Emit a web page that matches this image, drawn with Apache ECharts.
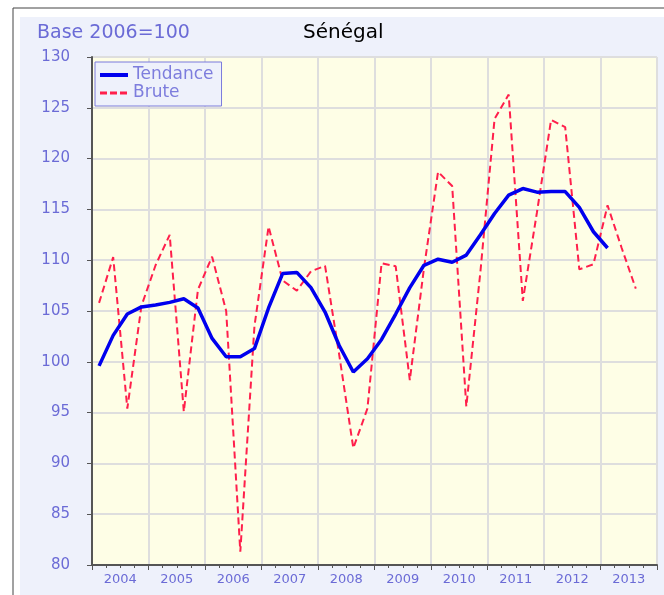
<!DOCTYPE html>
<html>
<head>
<meta charset="utf-8">
<script src="https://cdn.jsdelivr.net/npm/echarts@6/dist/echarts.min.js"></script>
<style>
  html, body { margin: 0; padding: 0; background: #ffffff; }
  #chart { width: 664px; height: 595px; }
</style>
</head>
<body>
<div id="chart"></div>
<script>
// Years shown on the time axis (one label centred in each year)
const years = ['2004', '2005', '2006', '2007', '2008', '2009', '2010', '2011', '2012', '2013'];

// Quarterly index values, base 2006 = 100, starting 2004 Q1
const tendance = [
  99.6, 102.6, 104.7, 105.4, 105.6, 105.85, 106.2, 105.3, 102.3, 100.5,
  100.5, 101.3, 105.3, 108.7, 108.8, 107.3, 104.9, 101.6, 99.0, 100.3,
  102.2, 104.7, 107.3, 109.5, 110.1, 109.8, 110.5, 112.5, 114.6, 116.4,
  117.05, 116.7, 116.75, 116.75, 115.2, 112.8, 111.2
];
const brute = [
  105.8, 110.3, 95.4, 105.5, 109.5, 112.5, 95.1, 107.1, 110.35, 105.0,
  81.3, 103.5, 113.3, 108.0, 107.0, 108.9, 109.45, 100.7, 91.5, 95.4,
  109.7, 109.4, 98.2, 109.2, 118.7, 117.3, 95.6, 108.9, 123.9, 126.3,
  106.0, 114.7, 123.8, 123.1, 109.1, 109.6, 115.4, 111.2, 107.2
];

const labelColor = '#6B6BD6';
const font = 'DejaVu Sans';
const quarters = years.length * 4;
const blue = '#0000EE';
const red = '#FF1F4B';

// each quarter is plotted at the middle of its slot on the axis
const toPoints = arr => arr.map((v, i) => [i + 0.5, v]);

// legend keys show the line only, without a marker
const hiddenMarker = { opacity: 0, color: 'rgba(0,0,0,0)', borderColor: 'rgba(0,0,0,0)', borderWidth: 0 };

const chart = echarts.init(document.getElementById('chart'), null, { renderer: 'canvas' });

chart.setOption({
  animation: false,
  graphic: [
    { type: 'rect', z: -10, silent: true,
      shape: { x: 13, y: 8, width: 700, height: 700 },
      style: { fill: '#ffffff', stroke: '#444444', lineWidth: 1 } },
    { type: 'rect', z: -9, silent: true,
      shape: { x: 20, y: 17, width: 700, height: 700 },
      style: { fill: '#EEF1FB' } }
  ],
  title: [
    { text: 'Base 2006=100', left: 37, top: 23, padding: 0,
      textStyle: { fontFamily: font, fontSize: 19, fontWeight: 'normal', color: labelColor, lineHeight: 20 } },
    { text: 'Sénégal', left: 303, top: 23, padding: 0,
      textStyle: { fontFamily: font, fontSize: 20, fontWeight: 'normal', color: '#000000', lineHeight: 20 } }
  ],
  legend: {
    orient: 'vertical',
    left: 95, top: 62,
    padding: [4, 8, 4, 3],
    itemGap: 0,
    itemWidth: 28,
    itemHeight: 14,
    itemTextGap: 6,
    backgroundColor: '#EEF1FB',
    borderColor: '#7B7BDD',
    borderWidth: 1,
    borderRadius: 0,
    textStyle: { fontFamily: font, fontSize: 17, color: '#7D7DDD', lineHeight: 18 },
    data: [
      { name: 'Tendance', itemStyle: hiddenMarker, lineStyle: { width: 4, color: blue } },
      { name: 'Brute', itemStyle: hiddenMarker, lineStyle: { width: 3, type: [7, 3], color: red } }
    ]
  },
  grid: {
    left: 92, right: 7, top: 57, bottom: 30,
    show: true,
    backgroundColor: '#FEFEE6',
    borderColor: '#9A9A9A',
    borderWidth: 1
  },
  xAxis: [
    {
      type: 'value', min: 0, max: quarters, interval: 4,
      axisLine: { show: true, onZero: false, lineStyle: { color: '#555555', width: 2 } },
      axisTick: { show: true, length: 5, lineStyle: { color: '#555555', width: 1 } },
      minorTick: { show: true, splitNumber: 4, length: 3, lineStyle: { color: '#555555', width: 1 } },
      splitLine: { show: true, lineStyle: { color: '#DEDEDE', width: 2 } },
      axisLabel: { show: false }
    },
    {
      type: 'value', min: 0, max: quarters, interval: 2, position: 'bottom',
      axisLine: { show: false }, axisTick: { show: false }, splitLine: { show: false },
      axisLabel: {
        margin: 8,
        fontFamily: font, fontSize: 13, color: labelColor,
        formatter: v => (v % 4 === 2 ? years[(v - 2) / 4] : '')
      }
    }
  ],
  yAxis: {
    type: 'value', min: 80, max: 130, interval: 5,
    axisLine: { show: true, onZero: false, lineStyle: { color: '#555555', width: 2 } },
    axisTick: { show: true, length: 5, lineStyle: { color: '#555555', width: 1 } },
    splitLine: { show: true, lineStyle: { color: '#DEDEDE', width: 2 } },
    axisLabel: { margin: 22, fontFamily: font, fontSize: 15, color: labelColor }
  },
  series: [
    {
      name: 'Tendance', type: 'line', xAxisIndex: 0,
      data: toPoints(tendance),
      symbol: 'none', smooth: false, z: 3,
      lineStyle: { color: blue, width: 3.5 },
      itemStyle: { color: blue }
    },
    {
      name: 'Brute', type: 'line', xAxisIndex: 0,
      data: toPoints(brute),
      symbol: 'none', smooth: false, z: 2,
      lineStyle: { color: red, width: 2, type: [7, 4] },
      itemStyle: { color: red }
    }
  ]
});
</script>
</body>
</html>
